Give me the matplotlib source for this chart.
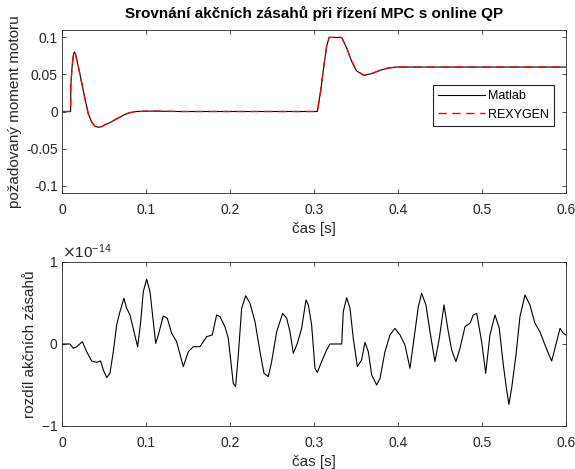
import matplotlib
matplotlib.use("Agg")
import matplotlib.pyplot as plt
from matplotlib.ticker import ScalarFormatter
import numpy as np

# ---- Top plot: action (controller output) ----
t_top = [0.0, 0.0103, 0.0105, 0.012, 0.0135, 0.0147, 0.016, 0.018, 0.0194, 0.0234,
         0.0274, 0.0313, 0.0353, 0.0393, 0.0433, 0.0472, 0.0512, 0.0571, 0.063, 0.069,
         0.074, 0.08, 0.089, 0.105, 0.14, 0.304, 0.308, 0.312, 0.3151, 0.318, 0.333,
         0.3389, 0.3448, 0.3508, 0.3595, 0.3687, 0.3786, 0.3885, 0.398, 0.6]
u_matlab = [0.0, 0.0, 0.035, 0.06, 0.076, 0.0805, 0.078, 0.068, 0.061, 0.039,
            0.017, -0.003, -0.0142, -0.02, -0.0213, -0.0204, -0.0178, -0.0151, -0.0112, -0.0076,
            -0.0045, -0.0017, 0.0, 0.0006, 0.0, 0.0, 0.028, 0.0636, 0.088, 0.1, 0.1,
            0.0858, 0.068, 0.0547, 0.0489, 0.0511, 0.0556, 0.0587, 0.06, 0.06]
u_rexygen = list(u_matlab)

# ---- Bottom plot: difference (units of 1e-14) ----
t_diff = [0.0, 0.0095, 0.0135, 0.0175, 0.0242, 0.0294, 0.0353, 0.0413, 0.046, 0.0492,
          0.0532, 0.0571, 0.0611, 0.0651, 0.069, 0.0738, 0.077, 0.081, 0.0857, 0.0901,
          0.0937, 0.0968, 0.1008, 0.1048, 0.1087, 0.1115, 0.1147, 0.1206, 0.1254, 0.1306,
          0.1365, 0.1444, 0.1504, 0.1563, 0.1643, 0.1722, 0.1789, 0.1841, 0.1881, 0.194,
          0.198, 0.2039, 0.2067, 0.2099, 0.2139, 0.2187, 0.2238, 0.2298, 0.2357, 0.2405,
          0.2456, 0.2496, 0.2556, 0.2627, 0.2675, 0.2714, 0.2754, 0.2802, 0.2853, 0.2905,
          0.2933, 0.2972, 0.3012, 0.304, 0.3091, 0.3151, 0.319, 0.333, 0.3349, 0.3389,
          0.3429, 0.3468, 0.3516, 0.3567, 0.3607, 0.3647, 0.3687, 0.3746, 0.3786, 0.3845,
          0.3905, 0.3964, 0.4024, 0.4083, 0.4143, 0.4202, 0.4242, 0.4282, 0.4333, 0.4381,
          0.444, 0.4492, 0.4548, 0.4599, 0.4639, 0.469, 0.4738, 0.4798, 0.4857, 0.4897,
          0.4937, 0.4996, 0.5044, 0.5095, 0.5155, 0.5206, 0.5254, 0.5294, 0.5321, 0.5353,
          0.5405, 0.5452, 0.5512, 0.5571, 0.5631, 0.569, 0.575, 0.579, 0.583, 0.5869,
          0.5929, 0.5968, 0.6]
d_vals = [0.0, 0.0, -0.053, -0.033, 0.028, -0.094, -0.207, -0.224, -0.207, -0.317,
          -0.41, -0.358, -0.094, 0.232, 0.394, 0.557, 0.435, 0.354, 0.15, -0.033,
          0.272, 0.638, 0.789, 0.638, 0.272, 0.008, 0.11, 0.341, 0.313, 0.13,
          0.028, -0.276, -0.094, -0.033, -0.033, 0.089, 0.11, 0.354, 0.333, 0.211,
          0.069, -0.48, -0.52, -0.134, 0.435, 0.589, 0.496, 0.272, -0.094, -0.358,
          -0.398, -0.215, 0.15, 0.374, 0.313, 0.15, -0.114, 0.008, 0.191, 0.537,
          0.476, 0.232, -0.297, -0.346, -0.215, -0.073, 0.0, 0.0, 0.394, 0.565,
          0.435, 0.069, -0.276, -0.195, 0.02, -0.094, -0.378, -0.5, -0.419, -0.094,
          0.11, 0.191, 0.11, -0.012, -0.297, 0.15, 0.455, 0.618, 0.476, 0.15,
          -0.215, 0.069, 0.476, 0.15, -0.073, -0.215, -0.053, 0.211, 0.252, 0.354,
          0.374, 0.028, -0.358, 0.11, 0.354, 0.191, -0.256, -0.561, -0.736, -0.541,
          -0.134, 0.333, 0.598, 0.476, 0.252, 0.15, -0.012, -0.114, -0.207, -0.053,
          0.191, 0.13, 0.11]
diff_scale = 1e-14

title = "Srovnání akčních zásahů při řízení MPC s online QP"
xlabel = "čas [s]"
ylabel_top = "požadovaný moment motoru"
ylabel_bot = "rozdíl akčních zásahů"
xticks = [0, 0.1, 0.2, 0.3, 0.4, 0.5, 0.6]
yticks_top = [-0.1, -0.05, 0, 0.05, 0.1]

plt.rcParams['font.family'] = ['Liberation Sans', 'DejaVu Sans']
plt.rcParams['font.size'] = 10
plt.rcParams['axes.unicode_minus'] = False
axc = (0.15, 0.15, 0.15)

fig = plt.figure(figsize=(5.75, 4.69), dpi=100)
ax1 = fig.add_axes([0.1078, 0.5885, 0.8765, 0.3475])
ax2 = fig.add_axes([0.1078, 0.0917, 0.8765, 0.3497])

ax1.plot(t_top, u_matlab, color='black', lw=0.8, label='Matlab')
ax1.plot(t_top, u_rexygen, color='red', lw=1.0, ls=(0, (6, 4)), label='REXYGEN')
ax1.set_xlim(0, 0.6)
ax1.set_ylim(-0.11, 0.11)
ax1.set_xticks(xticks)
ax1.set_xticklabels([f"{v:g}" for v in xticks])
ax1.set_yticks(yticks_top)
ax1.set_yticklabels([f"{v:g}" for v in yticks_top])
ax1.set_title(title, fontsize=11, fontweight='bold', pad=9)
ax1.set_xlabel(xlabel, fontsize=11, labelpad=4)
ax1.set_ylabel(ylabel_top, fontsize=11, labelpad=3)
leg = ax1.legend(loc='upper left', bbox_to_anchor=(0.737, 0.66), frameon=True,
                 fancybox=False, edgecolor=axc, framealpha=1, handlelength=3.7,
                 fontsize=9, borderpad=0.4, labelspacing=0.5, handletextpad=0.3,
                 borderaxespad=0)
leg.get_frame().set_linewidth(0.8)

ax2.plot(t_diff, [v * diff_scale for v in d_vals], color='black', lw=0.8)
ax2.set_xlim(0, 0.6)
ax2.set_ylim(-1e-14, 1e-14)
ax2.set_xticks(xticks)
ax2.set_xticklabels([f"{v:g}" for v in xticks])
ax2.set_yticks([-1e-14, 0, 1e-14])
fmt = ScalarFormatter(useMathText=True)
fmt.set_powerlimits((0, 0))
ax2.yaxis.set_major_formatter(fmt)
ax2.yaxis.get_offset_text().set_fontsize(11)
ax2.set_xlabel(xlabel, fontsize=11, labelpad=4)
ax2.set_ylabel(ylabel_bot, fontsize=11, labelpad=3)

for ax in (ax1, ax2):
    ax.tick_params(direction='in', top=True, right=True, length=3, width=0.6,
                   colors=axc, labelcolor=axc, labelsize=10)
    ax.tick_params(axis='x', pad=7)
    ax.tick_params(axis='y', pad=3)
    for s in ax.spines.values():
        s.set_color(axc)
        s.set_linewidth(0.6)
    ax.xaxis.label.set_color(axc)
    ax.yaxis.label.set_color(axc)

fig.savefig("out.png", dpi=100)
